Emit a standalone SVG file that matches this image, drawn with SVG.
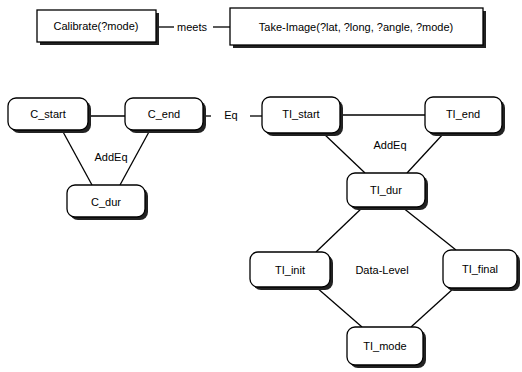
<svg xmlns="http://www.w3.org/2000/svg" width="522" height="372" viewBox="0 0 522 372">
<style>
.box{fill:#fff;stroke:#000;stroke-width:1.3}
.sh{fill:#222}
.t{font-family:"Liberation Sans",Arial,sans-serif;font-size:11px;fill:#000;text-anchor:middle;dominant-baseline:central}
.c line{stroke:#000;stroke-width:1.3}
</style>
<rect width="522" height="372" fill="#fff"/>
<g class="c" id="connectors">
<line x1="156" y1="27" x2="174" y2="27"/>
<line x1="213" y1="27" x2="230" y2="27"/>
<line x1="88" y1="116" x2="125" y2="116"/>
<line x1="62" y1="130" x2="92" y2="185"/>
<line x1="150" y1="130" x2="120" y2="185"/>
<line x1="203" y1="116" x2="211" y2="116"/>
<line x1="250" y1="116" x2="262" y2="116"/>
<line x1="340" y1="115" x2="425" y2="115"/>
<line x1="323" y1="133" x2="365" y2="173"/>
<line x1="444" y1="133" x2="407" y2="173"/>
<line x1="363" y1="207" x2="316" y2="252"/>
<line x1="402" y1="207" x2="456" y2="250"/>
<line x1="316" y1="287" x2="362" y2="327"/>
<line x1="454" y1="288" x2="411" y2="327"/>
<text class="t" x="192" y="27">meets</text>
<text class="t" x="231" y="115">Eq</text>
<text class="t" x="111" y="157">AddEq</text>
<text class="t" x="390" y="145">AddEq</text>
<text class="t" x="382" y="270">Data-Level</text>
</g>
<g id="calibrate"><rect class="sh" x="40" y="13" width="119" height="32"/><rect class="box" x="37" y="10" width="119" height="32"/><text class="t" x="96" y="26">Calibrate(?mode)</text></g>
<g id="takeimage"><rect class="sh" x="233" y="11" width="253" height="37"/><rect class="box" x="230" y="8" width="253" height="37"/><text class="t" x="356" y="27">Take-Image(?lat, ?long, ?angle, ?mode)</text></g>
<g id="c_start"><rect class="sh" x="11" y="101" width="80" height="32" rx="8"/><rect class="box" x="8" y="98" width="80" height="32" rx="8"/><text class="t" x="48" y="114">C_start</text></g>
<g id="c_end"><rect class="sh" x="128" y="101" width="78" height="32" rx="8"/><rect class="box" x="125" y="98" width="78" height="32" rx="8"/><text class="t" x="164" y="114">C_end</text></g>
<g id="c_dur"><rect class="sh" x="70" y="188" width="78" height="32" rx="8"/><rect class="box" x="67" y="185" width="78" height="32" rx="8"/><text class="t" x="106" y="202">C_dur</text></g>
<g id="ti_start"><rect class="sh" x="265" y="100" width="78" height="36" rx="8"/><rect class="box" x="262" y="97" width="78" height="36" rx="8"/><text class="t" x="301" y="114">TI_start</text></g>
<g id="ti_end"><rect class="sh" x="428" y="100" width="77" height="36" rx="8"/><rect class="box" x="425" y="97" width="77" height="36" rx="8"/><text class="t" x="463" y="114">TI_end</text></g>
<g id="ti_dur"><rect class="sh" x="350" y="176" width="78" height="34" rx="8"/><rect class="box" x="347" y="173" width="78" height="34" rx="8"/><text class="t" x="386" y="190">TI_dur</text></g>
<g id="ti_init"><rect class="sh" x="253" y="255" width="80" height="35" rx="8"/><rect class="box" x="250" y="252" width="80" height="35" rx="8"/><text class="t" x="290" y="270">TI_init</text></g>
<g id="ti_final"><rect class="sh" x="446" y="253" width="74" height="38" rx="8"/><rect class="box" x="443" y="250" width="74" height="38" rx="8"/><text class="t" x="480" y="269">TI_final</text></g>
<g id="ti_mode"><rect class="sh" x="350" y="330" width="76" height="38" rx="8"/><rect class="box" x="347" y="327" width="76" height="38" rx="8"/><text class="t" x="385" y="346">TI_mode</text></g>
</svg>
